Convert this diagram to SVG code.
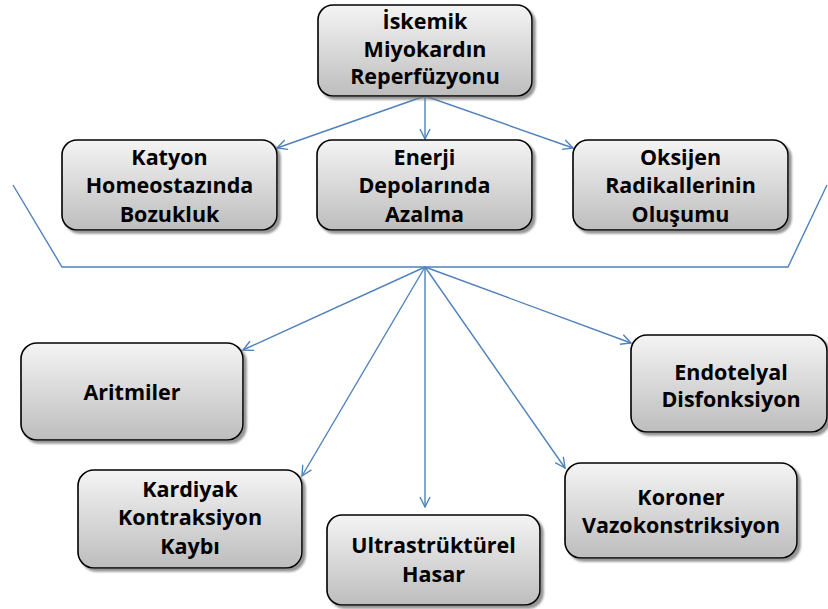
<svg xmlns="http://www.w3.org/2000/svg" width="828" height="609" viewBox="0 0 828 609">
<defs>
<linearGradient id="g" x1="0" y1="0" x2="0" y2="1">
<stop offset="0" stop-color="#f4f4f4"/>
<stop offset="1" stop-color="#bdbdbd"/>
</linearGradient>
<filter id="sh" x="-10%" y="-10%" width="125%" height="130%">
<feDropShadow dx="3" dy="3" stdDeviation="1.2" flood-color="#7a7a7a" flood-opacity="0.8"/>
</filter>
<marker id="ar" viewBox="0 0 12 12" refX="11" refY="6" markerWidth="12" markerHeight="12" markerUnits="userSpaceOnUse" orient="auto">
<path d="M1,1 L11,6 L1,11" fill="none" stroke="#4f81bd" stroke-width="1.4"/>
</marker>
<style>
.box{fill:url(#g);stroke:#000;stroke-width:1.6;filter:url(#sh)}
.t{font-family:"Open Sans","Liberation Sans",sans-serif;font-weight:700;font-size:21.5px;fill:#000;text-anchor:middle}
.c{fill:none;stroke:#4f81bd;stroke-width:1.4}
</style>
</defs>
<g id="connectors">
<polyline class="c" points="13,185 62,267 788,267 827,185"/>
<line class="c" x1="425" y1="96" x2="277" y2="148" marker-end="url(#ar)"/>
<line class="c" x1="425" y1="96" x2="425" y2="139" marker-end="url(#ar)"/>
<line class="c" x1="425" y1="96" x2="573" y2="148" marker-end="url(#ar)"/>
<line class="c" x1="425" y1="267" x2="243" y2="350" marker-end="url(#ar)"/>
<line class="c" x1="425" y1="267" x2="631" y2="343" marker-end="url(#ar)"/>
<line class="c" x1="425" y1="267" x2="302" y2="476" marker-end="url(#ar)"/>
<line class="c" x1="425" y1="267" x2="425" y2="507" marker-end="url(#ar)"/>
<line class="c" x1="425" y1="267" x2="565" y2="468" marker-end="url(#ar)"/>
</g>
<g id="n-top">
<rect class="box" x="318" y="5" width="214" height="91" rx="15"/>
<text class="t" x="425" y="29">İskemik</text>
<text class="t" x="425" y="57">Miyokardın</text>
<text class="t" x="425" y="84">Reperfüzyonu</text>
</g>
<g id="n-katyon">
<rect class="box" x="62" y="140" width="215" height="90" rx="15"/>
<text class="t" x="169.5" y="165">Katyon</text>
<text class="t" x="169.5" y="193">Homeostazında</text>
<text class="t" x="169.5" y="222">Bozukluk</text>
</g>
<g id="n-enerji">
<rect class="box" x="317" y="140" width="215" height="90" rx="15"/>
<text class="t" x="424.5" y="165">Enerji</text>
<text class="t" x="424.5" y="193">Depolarında</text>
<text class="t" x="424.5" y="222">Azalma</text>
</g>
<g id="n-oksijen">
<rect class="box" x="573" y="140" width="215" height="90" rx="15"/>
<text class="t" x="680.5" y="165">Oksijen</text>
<text class="t" x="680.5" y="193">Radikallerinin</text>
<text class="t" x="680.5" y="222">Oluşumu</text>
</g>
<g id="n-aritmiler">
<rect class="box" x="21" y="343" width="222" height="97" rx="16"/>
<text class="t" x="132" y="400">Aritmiler</text>
</g>
<g id="n-endotelyal">
<rect class="box" x="631" y="335" width="196" height="97" rx="16"/>
<text class="t" x="731" y="380">Endotelyal</text>
<text class="t" x="731" y="407">Disfonksiyon</text>
</g>
<g id="n-kardiyak">
<rect class="box" x="78" y="470" width="224" height="98" rx="16"/>
<text class="t" x="190" y="497">Kardiyak</text>
<text class="t" x="190" y="525">Kontraksiyon</text>
<text class="t" x="190" y="554">Kaybı</text>
</g>
<g id="n-ultra">
<rect class="box" x="327" y="515" width="213" height="90" rx="15"/>
<text class="t" x="433.5" y="553">Ultrastrüktürel</text>
<text class="t" x="433.5" y="582">Hasar</text>
</g>
<g id="n-koroner">
<rect class="box" x="565" y="463" width="232" height="95" rx="16"/>
<text class="t" x="681" y="505">Koroner</text>
<text class="t" x="681" y="533">Vazokonstriksiyon</text>
</g>
</svg>
